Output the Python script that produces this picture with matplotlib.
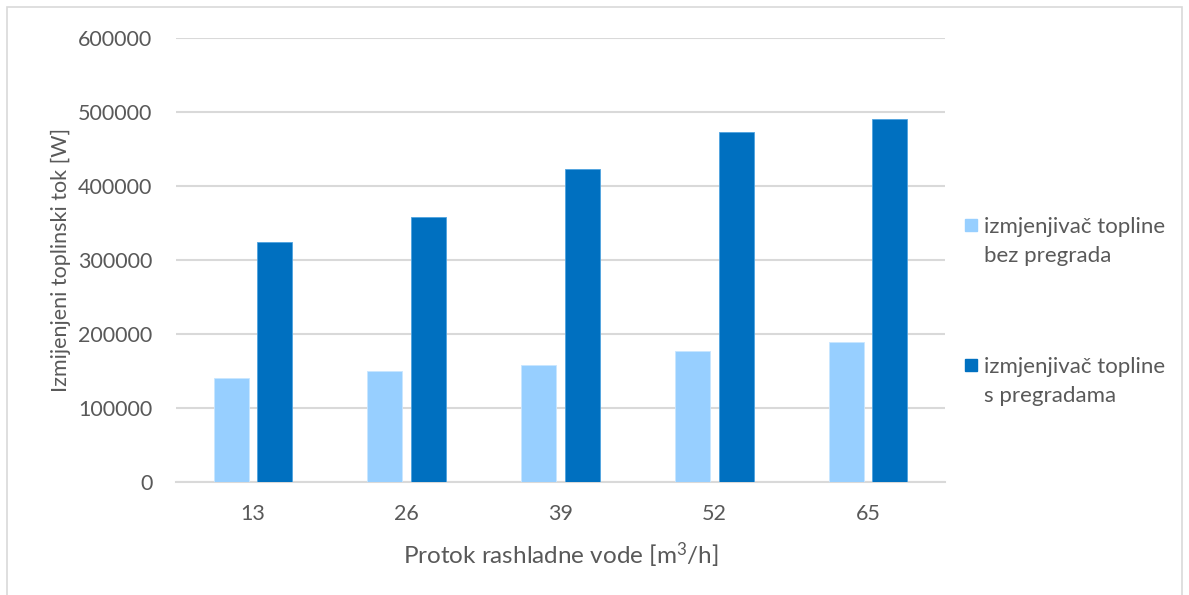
import numpy as np
import matplotlib
matplotlib.use('Agg')
import matplotlib.pyplot as plt
from matplotlib.patches import Rectangle

## Data
protok = ['13', '26', '39', '52', '65']
bez_pregrada = [141000, 150000, 158000, 177500, 189500]
s_pregradama = [324500, 358500, 423000, 472500, 490500]
series_names = ['izmjenjivač topline\nbez pregrada', 'izmjenjivač topline\ns pregradama']
series_colors = ['#97CFFF', '#0070C0']
y_ticks = [0, 100000, 200000, 300000, 400000, 500000, 600000]

plt.rcParams['font.family'] = ['Lato', 'DejaVu Sans']
plt.rcParams['mathtext.fontset'] = 'custom'
plt.rcParams['mathtext.rm'] = 'Lato'
txt_col = '#595959'
grid_col = '#D9D9D9'

W, H = 1189, 595
fig = plt.figure(figsize=(W / 100, H / 100), dpi=100)
ax = fig.add_axes([176 / W, 1 - 482 / H, (945 - 176) / W, (482 - 38) / H])

x = np.arange(len(protok))
bw = 0.227
off = 0.142
ax.bar(x - off, bez_pregrada, bw, color=series_colors[0], edgecolor='#C8E6FF', linewidth=0.6, zorder=3)
ax.bar(x + off, s_pregradama, bw, color=series_colors[1], edgecolor='#4FA3E0', linewidth=0.6, zorder=3)

ax.set_xlim(-0.5, len(protok) - 0.5)
ax.set_ylim(0, 600000)
ax.set_yticks(y_ticks)
ax.set_yticklabels([str(v) for v in y_ticks])
ax.set_xticks(x)
ax.set_xticklabels(protok)
ax.yaxis.grid(True, color=grid_col, linewidth=1.5, zorder=0)
for s in ['top', 'right', 'left']:
    ax.spines[s].set_visible(False)
ax.spines['bottom'].set_color(grid_col)
ax.spines['bottom'].set_linewidth(1.5)
ax.tick_params(axis='both', length=0, labelsize=15.5, colors=txt_col)
ax.tick_params(axis='y', pad=17)
ax.tick_params(axis='x', pad=16)

ax.set_ylabel('Izmijenjeni toplinski tok [W]', fontsize=15.5, color=txt_col)
ax.yaxis.set_label_coords(-0.136, 0.5)
ax.set_xlabel(r'Protok rashladne vode [m$\mathregular{^3}$/h]', fontsize=17.5, color=txt_col, labelpad=12)

# legend drawn by hand so the square sits on the first text line
leg_base = [232, 372]
line_gap = 30
for name, col, yy in zip(series_names, series_colors, leg_base):
    fig.patches.append(Rectangle((965 / W, 1 - (yy - 1) / H), 12 / W, 12 / H,
                                 transform=fig.transFigure, color=col))
    fig.text(984 / W, 1 - (yy + line_gap) / H, name, fontsize=16, color=txt_col,
             va='baseline', ha='left', linespacing=1.56)

# outer frame
fig.patches.append(Rectangle((7 / W, -0.05), 1175 / W, 1.05 - 7 / H, transform=fig.transFigure,
                             fill=False, edgecolor=grid_col, linewidth=1.2))

fig.savefig('out.png', dpi=100)
